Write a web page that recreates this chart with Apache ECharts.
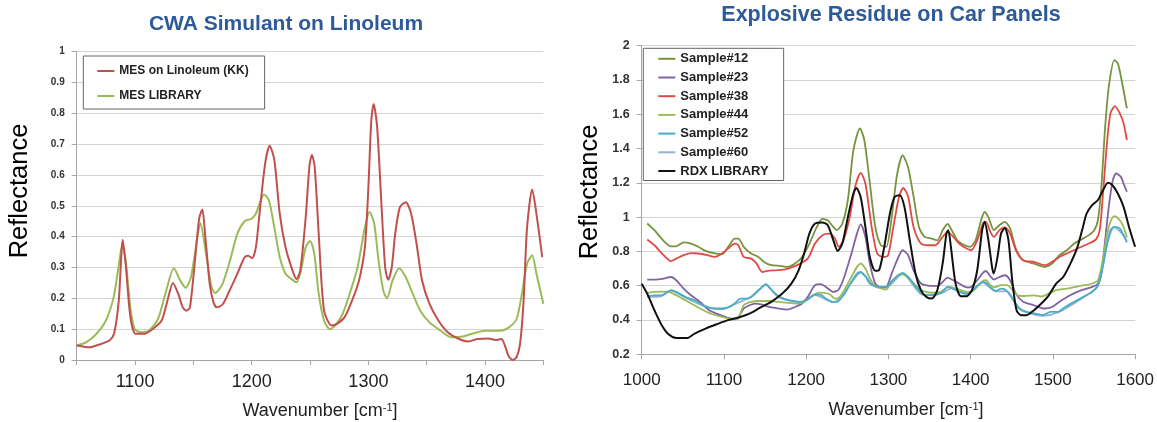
<!DOCTYPE html>
<html>
<head>
<meta charset="utf-8">
<script src="https://cdn.jsdelivr.net/npm/echarts@6/dist/echarts.min.js"></script>
<style>
html,body{margin:0;padding:0;background:#fff;}
#c{width:1157px;height:422px;}
</style>
</head>
<body>
<div id="c"></div>
<script>
// ---------- DATA ----------
const leftTitle = 'CWA Simulant on Linoleum';
const rightTitle = 'Explosive Residue on Car Panels';
const leftSeriesNames = ['MES on Linoleum (KK)', 'MES LIBRARY'];
const rightSeriesNames = ['Sample#12', 'Sample#23', 'Sample#38', 'Sample#44', 'Sample#52', 'Sample#60', 'RDX LIBRARY'];

const mesKK = [[1050,0.047],[1055,0.044],[1061,0.041],[1066,0.046],[1071,0.052],[1078,0.063],[1082,0.085],[1086,0.19],[1089.5,0.39],[1092,0.31],[1096,0.14],[1100.5,0.085],[1108,0.085],[1115,0.10],[1122.8,0.128],[1127.6,0.19],[1132.5,0.25],[1137,0.215],[1141,0.17],[1144,0.16],[1147,0.17],[1151.3,0.32],[1155,0.46],[1157.7,0.488],[1160,0.41],[1164,0.247],[1167,0.19],[1170,0.171],[1175,0.18],[1181,0.225],[1187.7,0.28],[1194,0.334],[1197,0.338],[1200.4,0.33],[1203.6,0.366],[1206.7,0.475],[1211.5,0.637],[1215.4,0.695],[1219.4,0.648],[1224,0.475],[1229,0.366],[1235,0.29],[1238.4,0.263],[1241.6,0.29],[1246.3,0.464],[1249.5,0.63],[1251.6,0.665],[1254,0.626],[1257.4,0.41],[1262,0.16],[1268.5,0.112],[1273,0.117],[1279.6,0.139],[1286,0.193],[1292,0.258],[1297,0.366],[1300,0.561],[1302.5,0.778],[1304.5,0.83],[1307.5,0.756],[1311,0.518],[1314.4,0.30],[1317,0.26],[1320,0.30],[1323,0.41],[1327,0.496],[1332,0.512],[1336.6,0.475],[1341.3,0.377],[1346,0.258],[1352.4,0.182],[1360,0.128],[1368,0.09],[1377.7,0.068],[1385.6,0.06],[1393.5,0.068],[1403,0.07],[1409,0.065],[1414,0.068],[1417,0.047],[1420,0.014],[1423.7,0.0],[1427,0.009],[1430,0.052],[1433,0.19],[1436,0.43],[1440.4,0.553],[1444,0.475],[1449,0.334]];

const mesLib = [[1050,0.047],[1058,0.057],[1067,0.085],[1075,0.128],[1081.7,0.204],[1085.8,0.30],[1089,0.372],[1092,0.323],[1096,0.17],[1099.7,0.10],[1105,0.09],[1111.7,0.095],[1119.7,0.133],[1126,0.215],[1133.3,0.298],[1138.7,0.258],[1143.4,0.234],[1148,0.27],[1153,0.388],[1156,0.444],[1160.8,0.345],[1165.6,0.236],[1168.7,0.217],[1175,0.247],[1181.4,0.323],[1187.7,0.41],[1194,0.45],[1199.8,0.458],[1203.6,0.475],[1206.7,0.507],[1210.5,0.537],[1214.7,0.518],[1219.4,0.43],[1224,0.334],[1229,0.28],[1235,0.26],[1238.4,0.252],[1242.2,0.29],[1246.3,0.366],[1250,0.386],[1253.6,0.345],[1257.4,0.215],[1262,0.128],[1267,0.10],[1271.7,0.112],[1278,0.15],[1284,0.215],[1290.7,0.30],[1297,0.43],[1301,0.48],[1305,0.442],[1308.7,0.323],[1312.8,0.225],[1316,0.20],[1320.7,0.258],[1326.4,0.298],[1331.8,0.27],[1338,0.215],[1344.5,0.16],[1352.4,0.122],[1362,0.095],[1371,0.074],[1380.9,0.076],[1390.4,0.087],[1400,0.095],[1412.6,0.095],[1420.5,0.106],[1427,0.133],[1431.6,0.215],[1436,0.312],[1440.4,0.34],[1444,0.28],[1450,0.182]];

const s12 = [[1006.7,0.963],[1015.5,0.924],[1026.6,0.862],[1035.5,0.83],[1042,0.83],[1051,0.853],[1060,0.846],[1068.8,0.827],[1077.7,0.803],[1088.8,0.788],[1097.6,0.784],[1106.5,0.836],[1113,0.875],[1117.6,0.875],[1124,0.827],[1133,0.788],[1142,0.768],[1148.7,0.739],[1157.5,0.72],[1168.6,0.716],[1177.5,0.71],[1186.4,0.729],[1195,0.768],[1204,0.846],[1213,0.943],[1219.7,0.99],[1226.3,0.98],[1233,0.943],[1237.4,0.924],[1244,0.963],[1250.7,1.1],[1257.4,1.39],[1265.4,1.517],[1270.7,1.45],[1277.4,1.2],[1284,0.945],[1290.7,0.837],[1297.4,0.827],[1304,1.0],[1310.6,1.25],[1317.3,1.36],[1324,1.29],[1330.6,1.12],[1337.3,0.94],[1344,0.885],[1352.8,0.875],[1359.5,0.865],[1366,0.924],[1372,0.96],[1377,0.924],[1383.9,0.865],[1392.8,0.836],[1399.4,0.827],[1406,0.865],[1412.7,0.982],[1417,1.03],[1421.6,1.0],[1428.3,0.924],[1435,0.953],[1441.6,0.972],[1448,0.934],[1455,0.817],[1463.8,0.749],[1477,0.729],[1490.4,0.71],[1499,0.729],[1508,0.778],[1517,0.807],[1526,0.846],[1534.8,0.87],[1543.7,0.895],[1550.3,0.924],[1554.8,0.982],[1559,1.177],[1563.6,1.527],[1568,1.76],[1574.7,1.916],[1579,1.897],[1583.6,1.8],[1590,1.634]];

const s23 = [[1006.7,0.636],[1015.5,0.636],[1026.6,0.642],[1035.5,0.651],[1042,0.632],[1051,0.583],[1060,0.544],[1071,0.505],[1082,0.457],[1091,0.437],[1102,0.418],[1111,0.408],[1117.6,0.418],[1124,0.467],[1131,0.486],[1137.6,0.496],[1146.5,0.49],[1155,0.476],[1166.4,0.467],[1177.5,0.461],[1186.4,0.476],[1195,0.496],[1202,0.535],[1210.8,0.603],[1217.5,0.609],[1224,0.593],[1233,0.564],[1239.6,0.578],[1246.3,0.651],[1255,0.787],[1261.8,0.904],[1266.3,0.958],[1272,0.885],[1277.4,0.73],[1284,0.613],[1290.7,0.59],[1297.4,0.593],[1304,0.671],[1310.6,0.749],[1317.3,0.807],[1324,0.778],[1330.6,0.69],[1339.5,0.613],[1348.4,0.6],[1359.5,0.598],[1366,0.622],[1372,0.647],[1377,0.636],[1386,0.613],[1395,0.59],[1400.7,0.593],[1408,0.632],[1415,0.675],[1418.5,0.686],[1424,0.655],[1428.3,0.636],[1435,0.651],[1441.6,0.661],[1448,0.632],[1455,0.554],[1463.8,0.506],[1477,0.486],[1490.4,0.467],[1499,0.476],[1508,0.506],[1521,0.544],[1534.8,0.574],[1548,0.593],[1555,0.613],[1559,0.671],[1563.6,0.866],[1568,1.06],[1572.5,1.206],[1577,1.255],[1582.7,1.235],[1586,1.196],[1590,1.148]];

const s38 = [[1006.7,0.87],[1015.5,0.836],[1026.6,0.778],[1035.5,0.743],[1042,0.758],[1051,0.778],[1060,0.79],[1068.8,0.788],[1080,0.778],[1088.8,0.768],[1097.6,0.788],[1106.5,0.823],[1113,0.846],[1117.6,0.836],[1124,0.768],[1133,0.758],[1139.8,0.729],[1146.5,0.68],[1153,0.686],[1162,0.69],[1173,0.694],[1184,0.71],[1193,0.73],[1202,0.758],[1210.8,0.846],[1219.7,0.895],[1228.6,0.904],[1235,0.875],[1239.6,0.827],[1245.4,0.866],[1253,1.0],[1259.6,1.177],[1266.3,1.258],[1272,1.196],[1279.6,0.943],[1286.3,0.788],[1293,0.768],[1299.6,0.778],[1306,0.943],[1313,1.12],[1318,1.17],[1324,1.12],[1330.6,0.943],[1339.5,0.846],[1348.4,0.836],[1357,0.836],[1366,0.885],[1372,0.914],[1377,0.895],[1386,0.846],[1395,0.817],[1400.7,0.807],[1408,0.865],[1415,0.963],[1418.5,0.973],[1424,0.914],[1428.3,0.885],[1435,0.924],[1441.6,0.94],[1448,0.904],[1455,0.807],[1463.8,0.749],[1477,0.739],[1490.4,0.72],[1499,0.739],[1508,0.768],[1517,0.788],[1530,0.817],[1543.7,0.846],[1552.5,0.87],[1557,0.924],[1561,1.138],[1565.8,1.43],[1570,1.605],[1575.6,1.648],[1581.4,1.605],[1586,1.547],[1590,1.45]];

const s44 = [[1006.7,0.558],[1015.5,0.564],[1026.6,0.566],[1033,0.564],[1042,0.544],[1053,0.515],[1064,0.486],[1075,0.457],[1086.5,0.432],[1097.6,0.418],[1106.5,0.408],[1113,0.402],[1117.6,0.408],[1124,0.486],[1133,0.506],[1144,0.511],[1155,0.511],[1166.4,0.506],[1177.5,0.5],[1188.6,0.496],[1197.5,0.506],[1206.4,0.535],[1215,0.56],[1222,0.558],[1228.6,0.55],[1235,0.525],[1239.6,0.529],[1246.3,0.574],[1255,0.651],[1261.8,0.71],[1266.3,0.729],[1272,0.7],[1277.4,0.642],[1284,0.598],[1290.7,0.584],[1297.4,0.578],[1304,0.622],[1312,0.661],[1317.3,0.667],[1324,0.646],[1332.8,0.603],[1341.7,0.57],[1352.8,0.56],[1364,0.564],[1372,0.59],[1377,0.59],[1386,0.578],[1395,0.564],[1400.7,0.564],[1408,0.593],[1415,0.628],[1418.5,0.632],[1424,0.603],[1428.3,0.59],[1437.3,0.603],[1444,0.603],[1450.6,0.578],[1457,0.544],[1466,0.54],[1477,0.544],[1486,0.537],[1495,0.554],[1504,0.574],[1517,0.583],[1534.8,0.6],[1548,0.613],[1555,0.632],[1560.6,0.749],[1566,0.904],[1570,0.973],[1574.7,1.006],[1581.4,0.982],[1586,0.943],[1590,0.881]];

const s52 = [[1006.7,0.539],[1015.5,0.544],[1024.4,0.544],[1031,0.564],[1035.5,0.574],[1042,0.564],[1053,0.535],[1064,0.515],[1075,0.486],[1086.5,0.467],[1097.6,0.467],[1106.5,0.476],[1113,0.496],[1120,0.525],[1128.7,0.525],[1135.4,0.544],[1144,0.583],[1151,0.609],[1157.5,0.577],[1166.4,0.539],[1175.3,0.52],[1184,0.511],[1193,0.506],[1202,0.52],[1210.8,0.55],[1217.5,0.548],[1224,0.525],[1233,0.506],[1237.4,0.506],[1246.3,0.55],[1255,0.622],[1261.8,0.671],[1266.3,0.68],[1272,0.655],[1277.4,0.613],[1284,0.598],[1290.7,0.593],[1297.4,0.593],[1304,0.626],[1312,0.661],[1317.3,0.675],[1324,0.651],[1332.8,0.598],[1341.7,0.55],[1352.8,0.544],[1364,0.558],[1372,0.593],[1377,0.587],[1386,0.564],[1395,0.554],[1400.7,0.564],[1408,0.6],[1415,0.622],[1419.4,0.613],[1424,0.59],[1430.7,0.57],[1437.3,0.583],[1444,0.57],[1450.6,0.525],[1459.5,0.467],[1468,0.447],[1479,0.437],[1488,0.428],[1497,0.447],[1506,0.447],[1515,0.476],[1526,0.506],[1537,0.535],[1548,0.564],[1555,0.603],[1560.6,0.71],[1566,0.846],[1570,0.924],[1574.7,0.943],[1581.4,0.934],[1586,0.895],[1590,0.856]];

const s60 = [[1006.7,0.535],[1024,0.54],[1035.5,0.57],[1053,0.53],[1075,0.483],[1097.6,0.463],[1113,0.492],[1135,0.54],[1151,0.603],[1166,0.535],[1193,0.503],[1210.8,0.546],[1233,0.503],[1255,0.618],[1266.3,0.676],[1284,0.595],[1297.4,0.59],[1317.3,0.671],[1341.7,0.547],[1364,0.555],[1377,0.584],[1395,0.551],[1415,0.618],[1430.7,0.567],[1444,0.567],[1459.5,0.464],[1488,0.425],[1506,0.444],[1537,0.532],[1555,0.6],[1566,0.842],[1574.7,0.94],[1586,0.892],[1590,0.853]];

const rdxLib = [[1000,0.612],[1006.7,0.554],[1015.5,0.457],[1024.4,0.37],[1033,0.315],[1042,0.295],[1055.5,0.295],[1064.4,0.321],[1077.7,0.35],[1091,0.375],[1104,0.398],[1117.6,0.414],[1131,0.437],[1144,0.472],[1157.5,0.506],[1171,0.554],[1182,0.612],[1190.8,0.69],[1197.5,0.788],[1204,0.905],[1210.8,0.963],[1219.7,0.969],[1226.3,0.953],[1233,0.866],[1238.3,0.803],[1244,0.846],[1250.7,1.0],[1257.4,1.138],[1261,1.17],[1266.3,1.118],[1272,0.943],[1277.4,0.768],[1284,0.687],[1288.5,0.69],[1295,0.827],[1301.8,1.02],[1307.5,1.118],[1313.8,1.128],[1319.5,1.06],[1326,0.866],[1333,0.67],[1339.5,0.574],[1346,0.535],[1352.8,0.525],[1359.5,0.574],[1366,0.73],[1370.6,0.904],[1372.8,0.924],[1376,0.827],[1381.7,0.612],[1388,0.539],[1395,0.539],[1401.6,0.574],[1408,0.69],[1414,0.924],[1417,0.973],[1421.6,0.866],[1426,0.71],[1428,0.671],[1432.7,0.768],[1437,0.904],[1441.6,0.937],[1446,0.866],[1450.6,0.632],[1455.8,0.457],[1461.6,0.428],[1468,0.428],[1477,0.457],[1486,0.496],[1495,0.544],[1504,0.612],[1512.6,0.651],[1521.3,0.729],[1530,0.827],[1536.6,0.943],[1541,1.02],[1547.7,1.07],[1554.8,1.1],[1561,1.157],[1567,1.2],[1572.5,1.186],[1579,1.138],[1586,1.06],[1592.6,0.943],[1600,0.827]];

const leftXTicks = [1100, 1200, 1300, 1400];

// ---------- STYLE ----------
const FONT = '"Liberation Sans", Arial, Helvetica, sans-serif';
const TITLE_COLOR = '#2d5a98';
const AXIS_COLOR = '#a6a6a6';
const GRID_COLOR = '#d4d4d4';
const leftColors = ['#c0504d', '#9bbb59'];
const rightColors = ['#77933c', '#8064a2', '#e04a46', '#9bbb59', '#4bacc6', '#95b3d7', '#111111'];

function mkLine(name, data, color, xi, yi, width, z) {
  return {
    name, type: 'line', data, xAxisIndex: xi, yAxisIndex: yi,
    symbol: 'none', showSymbol: false, smooth: 0.25, z: z || 2,
    lineStyle: { color, width: width || 2 }, itemStyle: { color },
    emphasis: { disabled: true }, silent: true
  };
}

const chart = echarts.init(document.getElementById('c'), null, { renderer: 'canvas' });

const yLabelStyle = (size) => ({ fontFamily: FONT, fontWeight: 'bold', fontSize: size, color: '#333' });

const option = {
  animation: false,
  backgroundColor: '#fff',
  textStyle: { fontFamily: FONT },
  grid: [
    { left: 76.7, top: 51.7, width: 466.7, height: 308.3, containLabel: false },
    { left: 641.7, top: 45.7, width: 496, height: 308.6, containLabel: false }
  ],
  xAxis: [
    {
      type: 'value', gridIndex: 0, min: 1050, max: 1450, interval: 50,
      axisLine: { lineStyle: { color: AXIS_COLOR, width: 1 } },
      axisTick: { show: true, length: 5, lineStyle: { color: AXIS_COLOR } },
      splitLine: { show: false },
      axisLabel: {
        fontFamily: FONT, fontSize: 18, color: '#222', margin: 13,
        formatter: v => leftXTicks.indexOf(v) >= 0 ? String(v) : ''
      }
    },
    {
      type: 'value', gridIndex: 1, min: 1000, max: 1600, interval: 100,
      axisLine: { lineStyle: { color: AXIS_COLOR, width: 1 } },
      axisTick: { show: true, length: 5, lineStyle: { color: AXIS_COLOR } },
      splitLine: { show: false },
      axisLabel: { fontFamily: FONT, fontSize: 17, color: '#222', margin: 18, formatter: v => String(v) }
    }
  ],
  yAxis: [
    {
      type: 'value', gridIndex: 0, min: 0, max: 1, interval: 0.1,
      axisLine: { show: true, lineStyle: { color: AXIS_COLOR, width: 1 } },
      axisTick: { show: true, length: 5, lineStyle: { color: AXIS_COLOR } },
      splitLine: { show: true, lineStyle: { color: GRID_COLOR, width: 1 } },
      axisLabel: Object.assign(yLabelStyle(10), { margin: 12, formatter: v => String(+v.toFixed(1)) })
    },
    {
      type: 'value', gridIndex: 1, min: 0.2, max: 2, interval: 0.2,
      axisLine: { show: true, lineStyle: { color: AXIS_COLOR, width: 1 } },
      axisTick: { show: true, length: 5, lineStyle: { color: AXIS_COLOR } },
      splitLine: { show: true, lineStyle: { color: GRID_COLOR, width: 1 } },
      axisLabel: Object.assign(yLabelStyle(12.5), { margin: 12, formatter: v => String(+v.toFixed(1)) })
    }
  ],
  legend: [
    {
      data: leftSeriesNames, orient: 'vertical', left: 83.3, top: 56,
      padding: [9, 16, 7, 13], itemGap: 13, itemWidth: 17, itemHeight: 14,
      backgroundColor: '#fff', borderColor: '#666', borderWidth: 1, borderRadius: 0,
      selectedMode: false,
      itemStyle: { opacity: 0 },
      textStyle: { fontFamily: FONT, fontWeight: 'bold', fontSize: 12, color: '#222' }
    },
    {
      data: rightSeriesNames, orient: 'vertical', left: 643.3, top: 48.3,
      padding: [4, 15, 3, 14], itemGap: 5.7, itemWidth: 17, itemHeight: 14,
      backgroundColor: '#fff', borderColor: '#666', borderWidth: 1, borderRadius: 0,
      selectedMode: false,
      itemStyle: { opacity: 0 },
      textStyle: { fontFamily: FONT, fontWeight: 'bold', fontSize: 13, color: '#222' }
    }
  ],
  graphic: [
    { type: 'text', x: 286, y: 24, silent: true,
      style: { text: leftTitle, font: 'bold 21px ' + FONT, fill: TITLE_COLOR, textAlign: 'center', textVerticalAlign: 'middle' } },
    { type: 'text', x: 891, y: 15.5, silent: true,
      style: { text: rightTitle, font: 'bold 21.5px ' + FONT, fill: TITLE_COLOR, textAlign: 'center', textVerticalAlign: 'middle' } },
    { type: 'text', x: 20, y: 191, rotation: Math.PI / 2, silent: true,
      style: { text: 'Reflectance', font: '25.5px ' + FONT, fill: '#000', textAlign: 'center', textVerticalAlign: 'middle' } },
    { type: 'text', x: 590, y: 192, rotation: Math.PI / 2, silent: true,
      style: { text: 'Reflectance', font: '25.5px ' + FONT, fill: '#000', textAlign: 'center', textVerticalAlign: 'middle' } },
    { type: 'text', x: 320, y: 411, silent: true,
      style: { text: 'Wavenumber [cm{s|-1}]', font: '18px ' + FONT, fill: '#222', textAlign: 'center', textVerticalAlign: 'middle',
        rich: { s: { fontFamily: FONT, fontSize: 11, fill: '#222', verticalAlign: 'top', lineHeight: 11, padding: [0, 0, 8, 0] } } } },
    { type: 'text', x: 906, y: 410, silent: true,
      style: { text: 'Wavenumber [cm{s|-1}]', font: '18px ' + FONT, fill: '#222', textAlign: 'center', textVerticalAlign: 'middle',
        rich: { s: { fontFamily: FONT, fontSize: 11, fill: '#222', verticalAlign: 'top', lineHeight: 11, padding: [0, 0, 8, 0] } } } }
  ],
  series: [
    mkLine(leftSeriesNames[0], mesKK, leftColors[0], 0, 0, 2, 3),
    mkLine(leftSeriesNames[1], mesLib, leftColors[1], 0, 0, 2, 2),
    mkLine(rightSeriesNames[0], s12, rightColors[0], 1, 1, 1.8, 2),
    mkLine(rightSeriesNames[1], s23, rightColors[1], 1, 1, 1.8, 2),
    mkLine(rightSeriesNames[2], s38, rightColors[2], 1, 1, 1.8, 2),
    mkLine(rightSeriesNames[3], s44, rightColors[3], 1, 1, 1.8, 2),
    mkLine(rightSeriesNames[4], s52, rightColors[4], 1, 1, 1.8, 2),
    mkLine(rightSeriesNames[5], s60, rightColors[5], 1, 1, 1.8, 1),
    mkLine(rightSeriesNames[6], rdxLib, rightColors[6], 1, 1, 2, 3)
  ]
};
chart.setOption(option);
</script>
</body>
</html>
